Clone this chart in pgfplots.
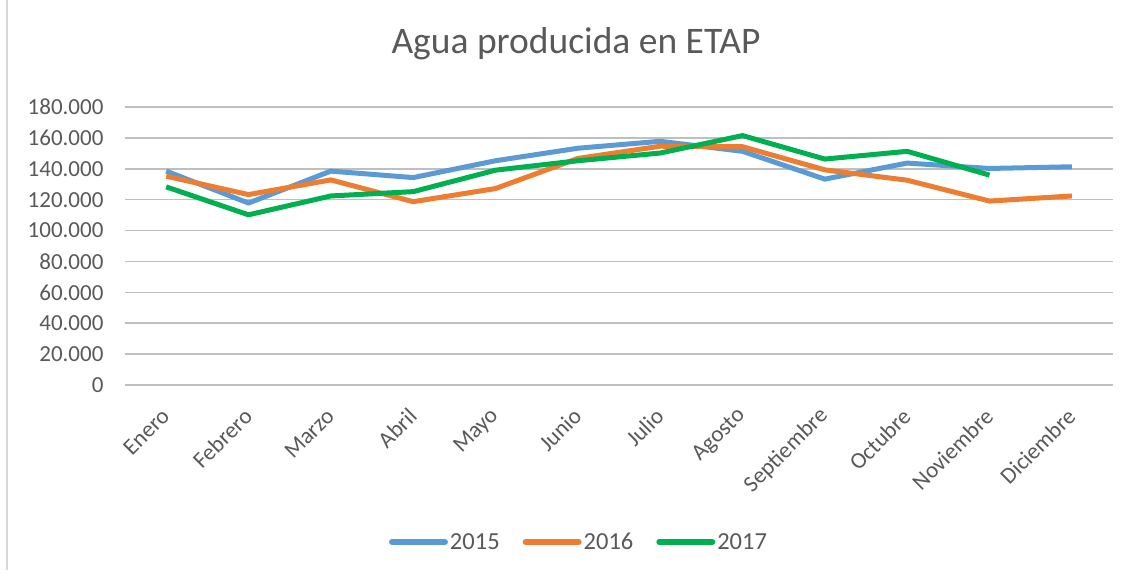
\documentclass[border=0pt]{standalone}
\usepackage{pgfplots}
\pgfplotsset{compat=1.18}
\usepackage{fontspec}
\setmainfont{Carlito}
\definecolor{txt}{HTML}{595959}
\definecolor{grid}{HTML}{D9D9D9}
\definecolor{c15}{HTML}{5B9BD5}
\definecolor{c16}{HTML}{ED7D31}
\definecolor{c17}{HTML}{00B050}
\begin{document}
\begin{tikzpicture}[x=1pt,y=1pt]
\path[use as bounding box] (-125,-189) rectangle (1009,385);
\draw[grid, line width=1.5pt] (-118,-185) -- (-118,400);
\begin{axis}[
  at={(0,0)}, anchor=south west,
  scale only axis, width=988pt, height=278pt,
  xmin=-0.5, xmax=11.5, ymin=0, ymax=180000,
  xtick={0,...,11},
  xticklabels={Enero,Febrero,Marzo,Abril,Mayo,Junio,Julio,Agosto,Septiembre,Octubre,Noviembre,Diciembre},
  ytick={0,20000,...,180000},
  scaled y ticks=false,
  /pgf/number format/.cd, fixed, precision=0, 1000 sep={.}, assume math mode=true,
  /pgfplots/.cd,
  axis line style={draw=none},
  major tick length=0pt,
  tick style={draw=none},
  xmajorgrids=false,
  ymajorgrids=true, grid style={grid, line width=1.5pt},
  yticklabel style={font=\fontsize{23}{27}\selectfont, text=txt, xshift=-18pt},
  xticklabel style={font=\fontsize{23}{27}\selectfont, text=txt, rotate=45, anchor=east, xshift=-16.3pt, yshift=-19.1pt},
  title={Agua producida en ETAP},
  title style={font=\fontsize{37.5}{42}\selectfont, text=txt, at={(axis description cs:0.4565,1.205)}, anchor=center},
  legend columns=3,
  legend style={draw=none, fill=none, at={(axis description cs:0.4595,-0.5647)}, anchor=center,
    font=\fontsize{24.5}{28}\selectfont, text=txt,
    /tikz/every even column/.append style={column sep=21pt}},
  legend image code/.code={\draw[#1, line width=6pt, line cap=round] (0pt,0pt) -- (53pt,0pt);},
  every axis plot/.append style={line width=5pt, line join=round, mark=none},
]
\addplot[c15] coordinates {(0,138500)(1,117800)(2,138500)(3,134300)(4,145200)(5,153300)(6,157800)(7,151300)(8,133300)(9,143700)(10,140200)(11,141300)};
\addlegendentry{2015}
\addplot[c16] coordinates {(0,135200)(1,123300)(2,132800)(3,118700)(4,127200)(5,146700)(6,154600)(7,154300)(8,139300)(9,132600)(10,119100)(11,122400)};
\addlegendentry{2016}
\addplot[c17] coordinates {(0,128300)(1,110200)(2,122400)(3,125200)(4,139100)(5,145200)(6,150200)(7,161500)(8,146300)(9,151300)(10,135900)};
\addlegendentry{2017}
\end{axis}
\end{tikzpicture}
\end{document}
